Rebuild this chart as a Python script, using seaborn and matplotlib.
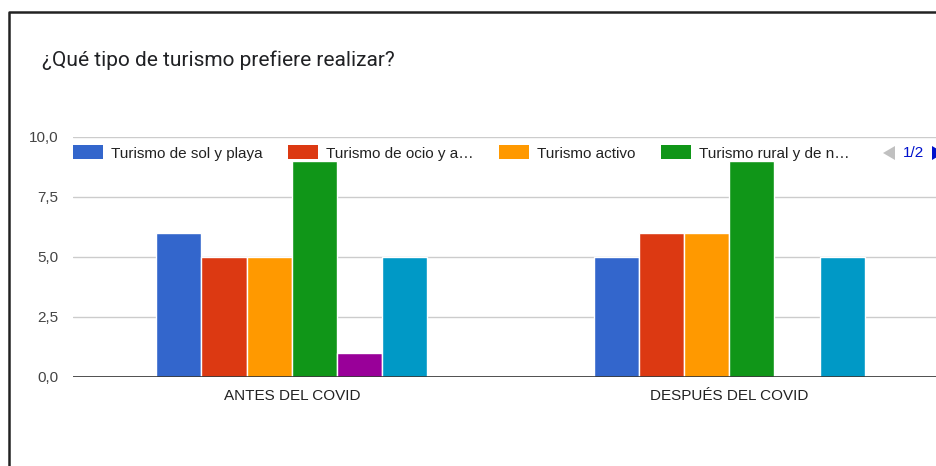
import numpy as np
import pandas as pd
import seaborn as sns
import matplotlib.pyplot as plt
from matplotlib.patches import Patch, Polygon
from matplotlib.lines import Line2D

# ---- data ----
periods = ["ANTES DEL COVID", "DESPUÉS DEL COVID"]
series = ["Turismo de sol y playa", "Turismo de ocio y a…", "Turismo activo",
          "Turismo rural y de n…", "Serie 5", "Serie 6"]
sol_playa = [6, 5]
ocio = [5, 6]
activo = [5, 6]
rural = [9, 9]
serie5 = [1, 0]
serie6 = [5, 5]
colors = ["#3366cc", "#dc3912", "#ff9900", "#109618", "#990099", "#0099c6"]
yticks = [0, 2.5, 5, 7.5, 10]
title = "¿Qué tipo de turismo prefiere realizar?"
page_label = "1/2"
legend_shown = 4

values = [sol_playa, ocio, activo, rural, serie5, serie6]
rows = []
for s, vals in zip(series, values):
    for p, v in zip(periods, vals):
        rows.append({"periodo": p, "serie": s, "valor": v})
df = pd.DataFrame(rows)

sns.set_theme(style="white")
plt.rcParams["font.family"] = ["Liberation Sans", "DejaVu Sans"]

W, H = 937, 466
fx = lambda px: px / W
fy = lambda py: 1 - py / H

fig = plt.figure(figsize=(W / 100, H / 100), dpi=100)
fig.patch.set_facecolor("white")

ax = fig.add_axes([fx(73), fy(377), (948 - 73) / W, (377 - 137) / H])
sns.barplot(data=df, x="periodo", y="valor", hue="serie", order=periods,
            hue_order=series, palette=colors, width=0.62, errorbar=None,
            edgecolor="white", linewidth=1, saturation=1, legend=False, ax=ax)
ax.set_xlim(-0.5, 1.5)
ax.set_ylim(0, 10)
ax.set_yticks(yticks)
ax.set_yticklabels([f"{v:.1f}".replace(".", ",") for v in yticks])
ax.set_xlabel("")
ax.set_ylabel("")
for sp in ax.spines.values():
    sp.set_visible(False)
ax.yaxis.grid(True, color="#cccccc", linewidth=1)
ax.set_axisbelow(True)
ax.axhline(0, color="#333333", linewidth=1.2, zorder=5)
ax.tick_params(axis="y", length=0, pad=10.8, labelsize=11, labelcolor="#444444")
ax.tick_params(axis="x", length=0, pad=8.5, labelsize=11, labelcolor="#222222")

# title
fig.text(fx(42), fy(66), title, fontsize=15, color="#202124",
         family=["Roboto", "DejaVu Sans"], va="baseline", ha="left")

# legend (first page)
handles = [Patch(facecolor=c, edgecolor="none") for c in colors[:legend_shown]]
fig.legend(handles, series[:legend_shown], loc="center left",
           bbox_to_anchor=(fx(73), fy(153)), ncol=legend_shown, frameon=False,
           borderpad=0, borderaxespad=0, handlelength=1.96, handleheight=1.0,
           handletextpad=0.5, columnspacing=1.7, fontsize=11,
           labelcolor="#222222")

# pager
fig.patches.append(Polygon([(fx(883), fy(153)), (fx(895), fy(146)), (fx(895), fy(160))],
                           closed=True, transform=fig.transFigure,
                           facecolor="#c0c0c0", edgecolor="none"))
fig.text(fx(903), fy(153), page_label, fontsize=11, color="#0011cc",
         va="center", ha="left")
fig.patches.append(Polygon([(fx(932), fy(146)), (fx(932), fy(160)), (fx(944), fy(153))],
                           closed=True, transform=fig.transFigure,
                           facecolor="#0011cc", edgecolor="none"))

# screenshot border
fig.lines.append(Line2D([fx(9), fx(9), fx(940)], [fy(470), fy(11.5), fy(11.5)],
                        transform=fig.transFigure, color="#222222", linewidth=1.8))

fig.savefig("out.png", dpi=100)
